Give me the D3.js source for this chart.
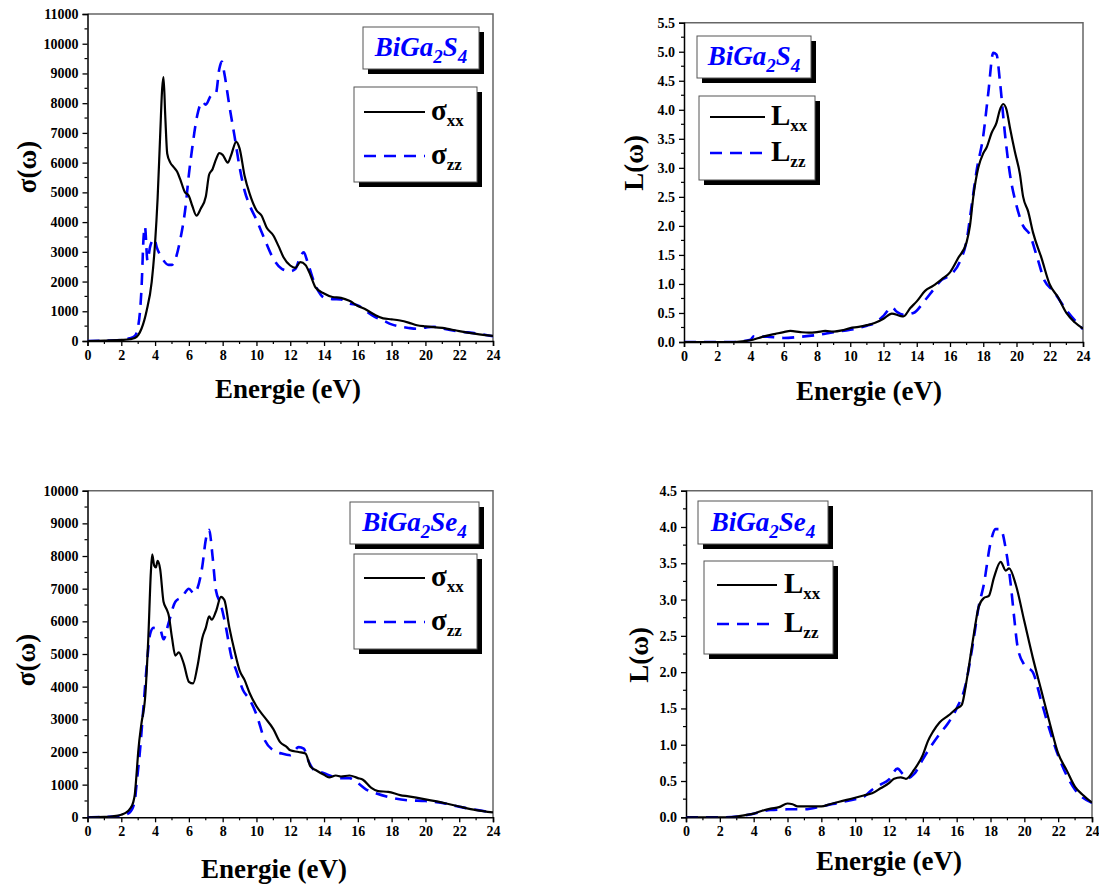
<!DOCTYPE html>
<html>
<head>
<meta charset="utf-8">
<script src="https://cdn.jsdelivr.net/npm/d3@7"></script>
<style>
  html, body { margin: 0; padding: 0; background: #fff; }
  svg text { font-family: "Liberation Serif", "Times New Roman", serif; font-weight: bold; }
</style>
</head>
<body>
<svg id="chart" width="1099" height="886"></svg>
<script>
// ---------------- DATA ----------------
// Energy (eV), value pairs
const s1_sigma_xx = [[0,0],[1,10],[2,35],[2.5,60],[2.8,100],[3.0,200],[3.2,420],[3.5,1020],[3.8,1990],[4.0,3300],[4.15,4800],[4.3,6900],[4.42,8500],[4.5,8880],[4.6,7600],[4.72,6300],[4.9,6000],[5.1,5850],[5.3,5700],[5.5,5420],[5.75,5020],[6.0,4880],[6.2,4550],[6.45,4220],[6.7,4450],[7.0,4850],[7.2,5600],[7.4,5780],[7.6,6100],[7.8,6320],[8.0,6260],[8.3,6000],[8.5,6250],[8.8,6700],[9.0,6480],[9.3,5550],[9.6,4950],[10.0,4400],[10.3,4220],[10.6,3820],[11.0,3550],[11.3,3200],[11.6,2820],[12.0,2540],[12.3,2460],[12.6,2650],[12.9,2560],[13.2,2210],[13.5,1800],[14.0,1600],[14.5,1480],[15.0,1450],[15.5,1350],[16.0,1180],[16.5,1050],[17.0,880],[17.5,760],[18.0,730],[18.5,690],[19.0,620],[19.5,530],[20.0,490],[21.0,440],[22.0,330],[23.0,240],[24.0,170]];
const s1_sigma_zz = [[0,0],[1,10],[2,40],[2.5,90],[2.8,170],[3.0,500],[3.2,1800],[3.32,3500],[3.4,3850],[3.55,2700],[3.7,3160],[3.95,3440],[4.1,3150],[4.4,2800],[4.8,2560],[5.0,2560],[5.2,2750],[5.5,3440],[5.8,4500],[6.0,5600],[6.2,6500],[6.5,7600],[6.8,8050],[7.0,7950],[7.3,8250],[7.6,8330],[7.8,9150],[7.95,9400],[8.1,9000],[8.4,7900],[8.7,6900],[9.0,5850],[9.3,5050],[9.6,4560],[10.0,4080],[10.5,3400],[11.0,2770],[11.5,2430],[12.0,2350],[12.3,2420],[12.6,2850],[12.8,2980],[13.0,2700],[13.4,2000],[13.8,1560],[14.0,1460],[14.5,1410],[15.0,1400],[15.5,1260],[16.0,1200],[16.5,1000],[17.0,810],[17.5,690],[18.0,560],[19.0,440],[19.5,410],[20.0,450],[20.5,480],[21.0,420],[22.0,320],[23.0,260],[24.0,160]];

const s1_L_xx = [[0,0],[3,0],[3.5,0.01],[4,0.03],[4.5,0.07],[5,0.11],[5.5,0.14],[6,0.17],[6.4,0.19],[7,0.17],[7.5,0.16],[8,0.17],[8.5,0.19],[9,0.18],[9.5,0.2],[10,0.24],[10.5,0.26],[11,0.29],[11.5,0.33],[12,0.4],[12.5,0.49],[13,0.45],[13.2,0.44],[13.6,0.58],[14,0.7],[14.5,0.88],[15,0.97],[15.5,1.08],[16,1.2],[16.5,1.45],[17,1.72],[17.2,2.0],[17.4,2.5],[17.7,3.0],[18,3.25],[18.2,3.35],[18.5,3.6],[18.8,3.78],[19.0,4.0],[19.2,4.1],[19.4,4.0],[19.6,3.7],[19.9,3.28],[20.2,2.9],[20.4,2.5],[20.7,2.25],[21,1.88],[21.5,1.45],[22,0.99],[22.5,0.77],[23,0.5],[23.5,0.34],[24,0.23]];
const s1_L_zz = [[0,0],[3,0],[4,0.04],[4.2,0.1],[5,0.09],[6,0.07],[7,0.09],[8,0.12],[9,0.17],[10,0.21],[11,0.28],[11.5,0.33],[12,0.45],[12.5,0.6],[12.8,0.52],[13.2,0.47],[13.8,0.5],[14.5,0.72],[15,0.9],[15.5,1.07],[16,1.15],[16.6,1.39],[17,1.75],[17.3,2.35],[17.6,2.95],[18,3.55],[18.3,4.28],[18.6,4.98],[18.8,4.95],[19.0,4.5],[19.3,3.6],[19.6,2.9],[20.0,2.35],[20.4,2.0],[20.8,1.85],[21.2,1.5],[21.7,1.05],[22.2,0.88],[23,0.55],[24,0.22]];

const s2_sigma_xx = [[0,0],[1,10],[1.5,30],[2.0,80],[2.3,150],[2.5,250],[2.7,450],[2.8,700],[2.9,1300],[3.0,2000],[3.2,2900],[3.4,3600],[3.6,5500],[3.75,7500],[3.83,8050],[3.95,7700],[4.05,7650],[4.15,7850],[4.3,7600],[4.5,6600],[4.7,6350],[4.8,6200],[5.0,5500],[5.2,4950],[5.4,5050],[5.7,4700],[6.0,4150],[6.25,4100],[6.5,4600],[6.8,5500],[7.0,5800],[7.2,6150],[7.35,6050],[7.6,6300],[7.9,6750],[8.1,6650],[8.4,5800],[8.7,5100],[9.0,4500],[9.3,4200],[9.6,3800],[10.0,3400],[10.5,3050],[11.0,2700],[11.4,2300],[11.8,2150],[12.0,2050],[12.5,2000],[12.9,1950],[13.2,1550],[13.5,1450],[14.0,1300],[14.3,1220],[14.7,1280],[15.0,1250],[15.5,1280],[16.0,1200],[16.3,1150],[16.8,900],[17.2,800],[17.8,780],[18.5,680],[19.0,640],[20.0,550],[21.0,450],[22.0,330],[23.0,220],[24.0,150]];
const s2_sigma_zz = [[0,0],[1,10],[2,50],[2.5,150],[2.8,500],[2.9,1000],[3.1,2000],[3.3,3300],[3.5,4600],[3.7,5600],[3.9,5800],[4.3,5750],[4.5,5450],[4.8,5950],[5.2,6600],[5.6,6750],[6.0,7000],[6.3,6850],[6.5,7000],[6.8,7700],[7.0,8500],[7.2,8800],[7.4,8000],[7.6,6950],[7.9,6500],[8.2,5800],[8.5,4950],[8.8,4500],[9.2,3900],[9.6,3600],[10.0,3150],[10.5,2350],[11.0,2050],[11.5,1950],[12.0,1900],[12.5,2150],[12.8,2100],[13.1,1700],[13.4,1450],[14.0,1350],[14.5,1250],[15.0,1200],[15.5,1200],[16.0,1050],[16.5,850],[17.0,750],[18.0,600],[19.0,520],[20.0,500],[21.0,440],[22.0,320],[23.0,230],[24.0,140]];

const s2_L_xx = [[0,0],[2.5,0],[3,0.01],[3.5,0.03],[4,0.05],[4.5,0.09],[5,0.12],[5.5,0.14],[6,0.19],[6.3,0.18],[6.6,0.15],[7,0.15],[7.5,0.15],[8,0.15],[8.5,0.18],[9,0.21],[9.5,0.24],[10,0.27],[10.5,0.3],[11,0.33],[11.5,0.4],[12,0.47],[12.3,0.53],[12.7,0.55],[13.0,0.53],[13.5,0.66],[14,0.86],[14.3,1.05],[14.6,1.18],[15,1.31],[15.5,1.4],[16,1.5],[16.3,1.55],[16.6,1.9],[17.0,2.5],[17.3,2.9],[17.6,3.02],[17.9,3.05],[18.2,3.3],[18.6,3.52],[18.9,3.4],[19.1,3.43],[19.5,3.2],[20.0,2.7],[20.5,2.2],[21.0,1.75],[21.5,1.3],[22.0,0.88],[22.5,0.65],[23.0,0.42],[23.5,0.3],[24,0.2]];
const s2_L_zz = [[0,0],[2,0],[3,0.01],[4,0.05],[5,0.1],[6,0.11],[7,0.11],[8,0.15],[9,0.2],[10,0.25],[10.5,0.28],[11,0.38],[11.5,0.45],[12,0.52],[12.5,0.67],[12.8,0.6],[13.1,0.54],[13.5,0.6],[14,0.8],[14.4,0.95],[15,1.15],[15.5,1.3],[16,1.5],[16.5,1.8],[17,2.45],[17.3,2.9],[17.6,3.2],[18,3.78],[18.3,3.97],[18.6,3.97],[18.9,3.7],[19.2,3.2],[19.4,2.75],[19.6,2.35],[20.0,2.1],[20.5,2.0],[21.0,1.6],[21.5,1.2],[22.0,0.85],[23.0,0.38],[24.0,0.2]];

// axis ticks
const energyTicks = [0,2,4,6,8,10,12,14,16,18,20,22,24];
const sigmaTicksS = [0,1000,2000,3000,4000,5000,6000,7000,8000,9000,10000,11000];
const sigmaTicksSe = [0,1000,2000,3000,4000,5000,6000,7000,8000,9000,10000];
const lossTicksS = [0,0.5,1.0,1.5,2.0,2.5,3.0,3.5,4.0,4.5,5.0,5.5];
const lossTicksSe = [0,0.5,1.0,1.5,2.0,2.5,3.0,3.5,4.0,4.5];

// compounds / labels
const compounds = ["BiGa|2|S|4", "BiGa|2|Se|4"];
const seriesSym = ["σ", "L"];
const seriesSub = ["xx", "zz"];
const yTitles = ["σ(ω)", "L(ω)"];
const xTitle = "Energie (eV)";

// ---------------- LAYOUT ----------------
const BLUE = "#0000ff";
const DASH = "12,8";
const svg = d3.select("#chart");

const panels = [
  { L:87.5, R:493, T:14, B:341, yTicks:sigmaTicksS, yMinor:500, fmt:d3.format("d"), xx:s1_sigma_xx, zz:s1_sigma_zz, comp:0, sym:0,
    title:{x0:363,x1:479,y0:27,y1:69}, leg:{x0:354,x1:477,y0:87,y1:182, r1:112, r2:156, lx0:364, lx1:425, tx:431},
    ylab:{x:36,y:167}, xlab:{x:288,y:398} },
  { L:684, R:1083, T:22.7, B:342, yTicks:lossTicksS, yMinor:0.25, fmt:d3.format(".1f"), xx:s1_L_xx, zz:s1_L_zz, comp:0, sym:1,
    title:{x0:697,x1:811,y0:36,y1:78}, leg:{x0:699,x1:815,y0:96,y1:180, r1:117, r2:153, lx0:710, lx1:765, tx:771},
    ylab:{x:643,y:163}, xlab:{x:869,y:400} },
  { L:87.5, R:493, T:490.7, B:817.3, yTicks:sigmaTicksSe, yMinor:500, fmt:d3.format("d"), xx:s2_sigma_xx, zz:s2_sigma_zz, comp:1, sym:0,
    title:{x0:350,x1:479,y0:502,y1:544}, leg:{x0:354,x1:477,y0:554,y1:649, r1:578, r2:622, lx0:364, lx1:425, tx:431},
    ylab:{x:35,y:660}, xlab:{x:274,y:878} },
  { L:686, R:1092, T:490.7, B:817.3, yTicks:lossTicksSe, yMinor:0.25, fmt:d3.format(".1f"), xx:s2_L_xx, zz:s2_L_zz, comp:1, sym:1,
    title:{x0:698,x1:828,y0:501,y1:544}, leg:{x0:704,x1:833,y0:561,y1:654, r1:585, r2:624, lx0:717, lx1:777, tx:784},
    ylab:{x:648,y:655}, xlab:{x:889,y:870} }
];

panels.forEach((p, i) => {
  const g = svg.append("g");
  const yMax = p.yTicks[p.yTicks.length - 1];
  const x = d3.scaleLinear().domain([0, 24]).range([p.L, p.R]);
  const y = d3.scaleLinear().domain([0, yMax]).range([p.B, p.T]);

  // frame top/right (grey)
  g.append("path")
    .attr("d", `M${p.L},${p.T}H${p.R}V${p.B}`)
    .attr("fill", "none").attr("stroke", "#666").attr("stroke-width", 1.5);

  // minor ticks
  const xMinor = d3.range(1, 24, 2);
  g.append("g").selectAll("line").data(xMinor).join("line")
    .attr("x1", d => x(d)).attr("x2", d => x(d))
    .attr("y1", p.B).attr("y2", p.B + 3)
    .attr("stroke", "#000").attr("stroke-width", 1.2);
  const yMinorVals = d3.range(p.yMinor, yMax, p.yMinor * 2);
  g.append("g").selectAll("line").data(yMinorVals).join("line")
    .attr("x1", p.L - 3).attr("x2", p.L)
    .attr("y1", d => y(d)).attr("y2", d => y(d))
    .attr("stroke", "#000").attr("stroke-width", 1.2);

  // axes
  const xAxis = d3.axisBottom(x).tickValues(energyTicks).tickFormat(d3.format("d")).tickSize(5).tickPadding(4);
  const gx = g.append("g").attr("transform", `translate(0,${p.B})`).call(xAxis);
  const yAxis = d3.axisLeft(y).tickValues(p.yTicks).tickFormat(p.fmt).tickSize(5).tickPadding(4);
  const gy = g.append("g").attr("transform", `translate(${p.L},0)`).call(yAxis);
  [gx, gy].forEach(a => {
    a.select(".domain").attr("stroke", "#000").attr("stroke-width", 1.5);
    a.selectAll(".tick line").attr("stroke", "#000").attr("stroke-width", 1.3);
    a.selectAll(".tick text").attr("fill", "#000")
      .style("font-family", '"Liberation Serif", serif').style("font-weight", "bold").style("font-size", "14px");
  });

  // clip
  const cid = "clip" + i;
  svg.append("clipPath").attr("id", cid).append("rect")
    .attr("x", p.L).attr("y", p.T - 2).attr("width", p.R - p.L).attr("height", p.B - p.T + 2);

  const line = d3.line().x(d => x(d[0])).y(d => y(d[1])).curve(d3.curveMonotoneX);
  const plot = g.append("g").attr("clip-path", `url(#${cid})`);
  plot.append("path").datum(p.zz).attr("d", line)
    .attr("fill", "none").attr("stroke", BLUE).attr("stroke-width", 2.6)
    .attr("stroke-dasharray", DASH);
  plot.append("path").datum(p.xx).attr("d", line)
    .attr("fill", "none").attr("stroke", "#000").attr("stroke-width", 2.2);

  // title box with shadow
  const t = p.title;
  g.append("rect").attr("x", t.x0 + 5).attr("y", t.y0 + 5).attr("width", t.x1 - t.x0).attr("height", t.y1 - t.y0).attr("fill", "#000");
  g.append("rect").attr("x", t.x0).attr("y", t.y0).attr("width", t.x1 - t.x0).attr("height", t.y1 - t.y0)
    .attr("fill", "#fff").attr("stroke", "#555").attr("stroke-width", 1);
  const parts = compounds[p.comp].split("|");
  const tt = g.append("text").attr("x", (t.x0 + t.x1) / 2).attr("y", (t.y0 + t.y1) / 2 + 8)
    .attr("text-anchor", "middle").attr("fill", BLUE)
    .style("font-style", "italic").style("font-size", "27px");
  parts.forEach((s, k) => {
    const sub = k % 2 === 1;
    tt.append("tspan").text(s)
      .attr("dy", sub ? 7 : (k === 0 ? 0 : -7))
      .style("font-size", sub ? "19px" : "27px");
  });

  // legend box with shadow
  const l = p.leg;
  g.append("rect").attr("x", l.x0 + 5).attr("y", l.y0 + 5).attr("width", l.x1 - l.x0).attr("height", l.y1 - l.y0).attr("fill", "#000");
  g.append("rect").attr("x", l.x0).attr("y", l.y0).attr("width", l.x1 - l.x0).attr("height", l.y1 - l.y0)
    .attr("fill", "#fff").attr("stroke", "#555").attr("stroke-width", 1);
  [[l.r1, "#000", null, 2.2], [l.r2, BLUE, DASH, 2.6]].forEach((r, k) => {
    g.append("line").attr("x1", l.lx0).attr("x2", l.lx1).attr("y1", r[0]).attr("y2", r[0])
      .attr("stroke", r[1]).attr("stroke-width", r[3]).attr("stroke-dasharray", r[2]);
    const tx = g.append("text").attr("x", l.tx).attr("y", r[0] + 8).attr("fill", "#000")
      .style("font-size", "29px");
    tx.append("tspan").text(seriesSym[p.sym]);
    tx.append("tspan").text(seriesSub[k]).attr("dy", 6).style("font-size", "17px");
  });

  // axis titles
  g.append("text").attr("transform", `translate(${p.ylab.x},${p.ylab.y}) rotate(-90)`)
    .attr("text-anchor", "middle").attr("fill", "#000").style("font-size", "27px").text(yTitles[p.sym]);
  g.append("text").attr("x", p.xlab.x).attr("y", p.xlab.y)
    .attr("text-anchor", "middle").attr("fill", "#000").style("font-size", "27px").text(xTitle);
});
</script>
</body>
</html>
